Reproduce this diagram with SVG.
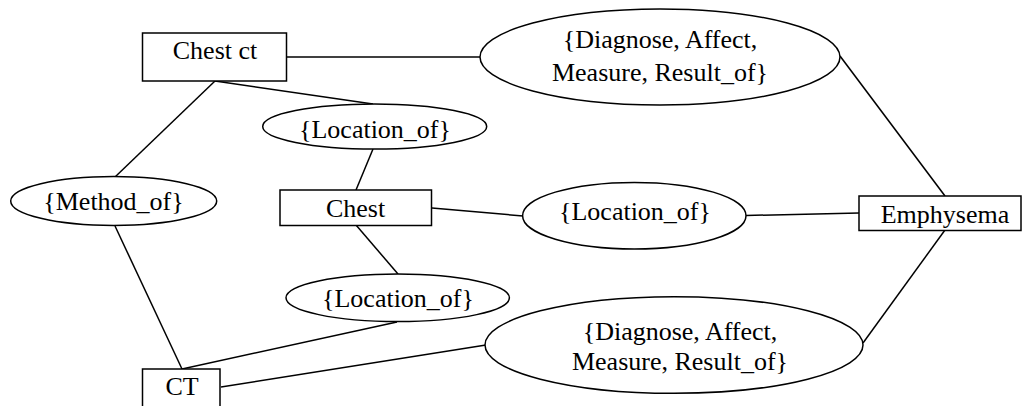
<svg xmlns="http://www.w3.org/2000/svg" width="1023" height="406" viewBox="0 0 1023 406">
<style>
.n{fill:#fff;stroke:#000;stroke-width:1.5}
.t{font-family:"Liberation Serif","Times New Roman",serif;font-size:26px;fill:#000;text-anchor:middle}
.c line{stroke:#000;stroke-width:1.5}
</style>
<rect width="1023" height="406" fill="#fff"/>
<g class="c" id="connectors">
<line x1="287" y1="57" x2="480" y2="57"/>
<line x1="840" y1="56" x2="945" y2="196"/>
<line x1="215" y1="81" x2="373" y2="104"/>
<line x1="215" y1="81" x2="115" y2="177"/>
<line x1="373" y1="149" x2="356" y2="190"/>
<line x1="115" y1="226" x2="182" y2="369"/>
<line x1="432" y1="208" x2="523" y2="216"/>
<line x1="746" y1="215.5" x2="859" y2="213"/>
<line x1="356" y1="225" x2="398" y2="274"/>
<line x1="397" y1="322" x2="182" y2="369"/>
<line x1="221" y1="387" x2="486" y2="345"/>
<line x1="863" y1="343" x2="945" y2="230"/>
</g>
<g id="chest-ct"><rect class="n" x="142.5" y="33" width="144" height="48"/><text class="t" x="215" y="59">Chest ct</text></g>
<g id="rel-top"><ellipse class="n" cx="660" cy="57" rx="180" ry="48"/><text class="t" x="660" y="48">{Diagnose, Affect,</text><text class="t" x="660" y="81">Measure, Result_of}</text></g>
<g id="loc-upper"><ellipse class="n" cx="374.7" cy="126.5" rx="112" ry="22.5"/><text class="t" x="375" y="138">{Location_of}</text></g>
<g id="method-of"><ellipse class="n" cx="113.7" cy="201" rx="103" ry="24.5"/><text class="t" x="113.5" y="210">{Method_of}</text></g>
<g id="chest"><rect class="n" x="280" y="190" width="151.5" height="35.5"/><text class="t" x="355.5" y="217">Chest</text></g>
<g id="loc-middle"><ellipse class="n" cx="634.3" cy="215.7" rx="111.7" ry="33.3"/><text class="t" x="635" y="219.5">{Location_of}</text></g>
<g id="emphysema"><rect class="n" x="859" y="196" width="162" height="34.5"/><text class="t" x="945" y="222.5">Emphysema</text></g>
<g id="loc-lower"><ellipse class="n" cx="397.7" cy="297.8" rx="111.7" ry="23.8"/><text class="t" x="398" y="306.5">{Location_of}</text></g>
<g id="rel-bottom"><ellipse class="n" cx="674" cy="345" rx="189" ry="48.3"/><text class="t" x="680" y="339.5">{Diagnose, Affect,</text><text class="t" x="680" y="369.5">Measure, Result_of}</text></g>
<g id="ct"><rect class="n" x="142.5" y="369" width="77.5" height="45"/><text class="t" x="182" y="395">CT</text></g>
</svg>
